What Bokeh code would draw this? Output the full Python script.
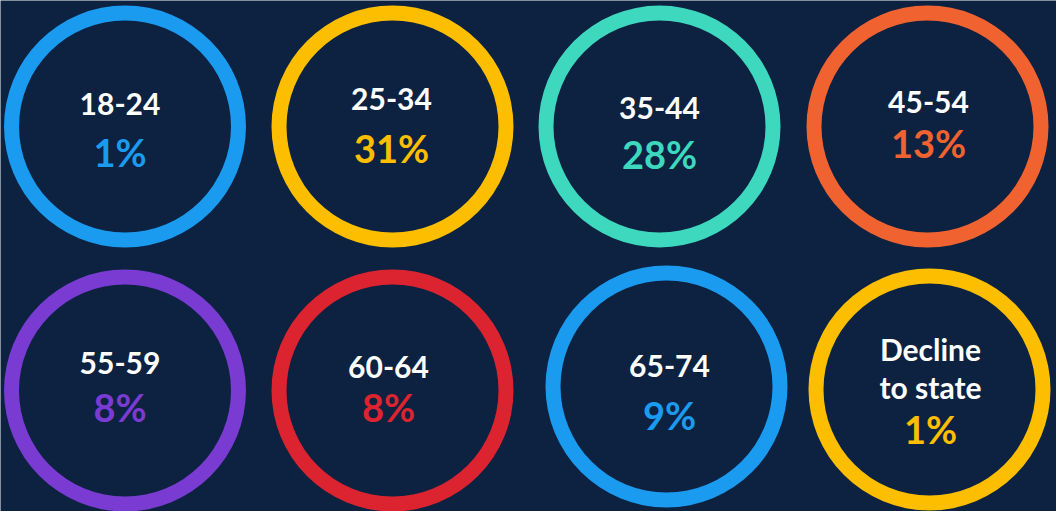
from bokeh.plotting import figure
from bokeh.models import ColumnDataSource, Range1d
from bokeh.core.properties import value
from bokeh.embed import file_html
from bokeh.resources import INLINE

# ---- data ----
age_groups = ["18-24", "25-34", "35-44", "45-54", "55-59", "60-64", "65-74", "Decline\nto state"]
shares = [1, 31, 28, 13, 8, 8, 9, 1]
colors = ["#1a9bf0", "#fdbe00", "#3dd8bd", "#f06230", "#7a3bd2", "#db2430", "#1a9bf0", "#fdbe00"]

# ---- layout (screen px) ----
W, H = 1056, 511
BG = "#0c2240"
col_x = [124.5, 392, 659, 927]
row_y = [126, 389]
nudge_x = [0, 0, 0, 0, 0, 0, 7, 2]
nudge_y = [0, 0, 0, 0, 1, 1, -3, 0]
label_dy = [-11, -16, -7, -12.5, -16, -12, -8.5, -29]
pct_dy = [44, 40, 46, 35.5, 35, 35, 47.5, 58]
text_dx = [-5, -1, 0, 1, -5, -4, 3, 1]
LABEL_SHIFT, PCT_SHIFT = -12, -19
R_OUT, R_IN = 121, 106
LINE_GAP = 38

cx, cy = [], []
for i in range(len(age_groups)):
    cx.append(col_x[i % 4] + nudge_x[i])
    cy.append(row_y[i // 4] + nudge_y[i])

p = figure(width=W, height=H, x_range=Range1d(0, W), y_range=Range1d(H, 0),
           output_backend="svg", toolbar_location=None, min_border=0,
           background_fill_color=BG, border_fill_color=BG)
p.axis.visible = False
p.grid.visible = False
p.outline_line_color = None

ring_src = ColumnDataSource(dict(x=cx, y=cy, color=colors))
p.annulus(x="x", y="y", inner_radius=R_IN, outer_radius=R_OUT,
          fill_color="color", line_color=None, source=ring_src)

# labels (white), each line placed separately
lx, ly, lt = [], [], []
for i, lab in enumerate(age_groups):
    for j, line in enumerate(lab.split("\n")):
        lx.append(cx[i] + text_dx[i])
        ly.append(cy[i] + label_dy[i] + LABEL_SHIFT + j * LINE_GAP)
        lt.append(line)
p.text(x="x", y="y", text="t", source=ColumnDataSource(dict(x=lx, y=ly, t=lt)),
       text_color="white", text_font=value("Lato"), text_font_style="bold",
       text_font_size="30px", text_align="center", text_baseline="alphabetic")

# percentages in ring colour
pct_src = ColumnDataSource(dict(
    x=[cx[i] + text_dx[i] for i in range(len(shares))],
    y=[cy[i] + pct_dy[i] + PCT_SHIFT for i in range(len(shares))],
    t=[f"{s}%" for s in shares], color=colors))
p.text(x="x", y="y", text="t", source=pct_src, text_color="color",
       text_font=value("Lato"), text_font_style="bold", text_font_size="38px",
       text_align="center", text_baseline="alphabetic")

open("out.html", "w").write(file_html(p, INLINE))
